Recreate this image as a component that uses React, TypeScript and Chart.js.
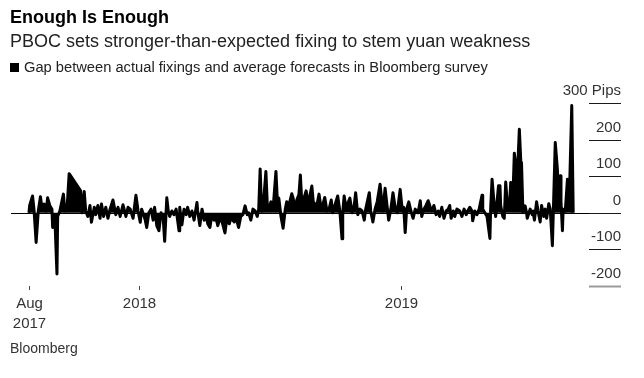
import React, { useEffect, useRef } from "react";
import { Chart, registerables } from "chart.js";

Chart.register(...registerables);

// Days since 1 Aug 2017 (daily fixings, sampled from the chart)
const days = [
  0, 1, 5, 7, 10, 13, 16, 18, 21, 24, 26, 29, 32, 33, 36, 39, 40, 43, 48, 50, 53, 56,
  72, 74, 77, 79, 82, 85, 87, 91, 93, 96, 99, 101, 104, 107, 110, 113, 117, 121, 124, 127,
  131, 135, 138, 141, 145, 149, 152, 155, 157, 162, 164, 167, 170, 173, 175, 178, 181, 184,
  187, 189, 192, 194, 196, 199, 202, 205, 209, 210, 213, 216, 219, 221, 224, 227, 230, 234,
  235, 238, 241, 244, 247, 249, 252, 255, 258, 260, 263, 266, 269, 273, 276, 279, 281, 286,
  288, 292, 295, 298, 301, 304, 306, 309, 312, 315, 318, 320, 322, 324, 326, 330, 332, 334,
  337, 340, 344, 346, 348, 351, 354, 357, 359, 362, 366, 368, 370, 373, 376, 378, 380, 383,
  386, 389, 391, 394, 396, 398, 401, 404, 407, 409, 412, 415, 418, 421, 423, 426, 430, 433,
  436, 437, 439, 442, 444, 447, 450, 453, 455, 458, 461, 464, 467, 469, 474, 476, 479, 482,
  485, 489, 492, 493, 496, 499, 501, 504, 507, 510, 513, 517, 520, 522, 524, 526, 529, 532,
  535, 538, 542, 545, 547, 550, 553, 556, 559, 561, 564, 567, 570, 572, 575, 578, 581, 584,
  586, 588, 591, 593, 596, 600, 603, 606, 609, 611, 614, 617, 618, 621, 624, 627, 631, 632,
  635, 638, 642, 643, 645, 648, 650, 654, 656, 657, 660, 662, 664, 666, 669, 671, 673, 674,
  676, 678, 680, 683, 685, 686, 688, 691, 693, 694, 698, 701, 702, 704, 707, 709, 712, 714,
  717, 719, 721, 724, 726, 729, 733, 736, 737, 740, 741, 743, 744, 747, 750, 752, 753, 756,
  758,
];

// Gap between actual fixing and average forecast, in pips
const gapPips = [
  0, 20, 46, 10, -81, 5, 44, 15, 24, 5, 41, 20, 10, -40, -10, -167, -10, 5, 51, 5, 10, 107,
  60, 0, 58, 5, -10, 20, -26, 15, -5, 20, -15, 24, -10, 15, -15, 10, 35, -5, 15, -10,
  22, -10, 15, 10, -15, 48, 5, -26, 10, -20, -40, 0, 10, -20, 15, -35, -49, 0,
  -15, -78, 41, 5, -10, 5, -5, 10, -49, 15, -33, 10, -5, 15, -10, 5, -20, 28,
  5, -35, 10, -20, -10, -30, -40, -5, -20, -10, -35, -15, -25, -55, -10, -30, -15, -25,
  -10, -40, -10, -5, 19, -5, 0, -20, 10, 5, -10, 10, 120, 5, 10, 113, 20, 10,
  30, 10, 113, 30, 40, -10, -42, 10, 30, 20, 52, 40, 10, 35, 50, 103, 30, 40,
  60, 20, 45, 73, 30, 25, 20, 51, 10, 20, 42, 5, 10, 35, 0, 20, 46, 5,
  -71, 0, 46, 10, 25, 40, 0, 20, 55, -5, 10, 5, -20, 10, 55, 5, -25, 10,
  30, 78, 20, 5, 67, 15, -20, 10, 55, 15, 0, 64, 5, 15, -54, 10, 30, 5,
  -15, 10, 0, 33, -10, 10, 20, 33, 15, 5, 20, -5, 5, -10, 15, -15, 5, 10,
  20, -15, 5, -10, 10, 5, -10, 10, -5, 5, 15, 5, -22, 5, -5, 10, 48, 10,
  0, -10, -70, 10, 92, 20, -10, 74, 74, 20, -10, -15, 84, 30, 10, 83, 80, 40,
  163, 130, 90, 228, 140, 137, 0, 19, 0, -15, 10, -5, 5, -20, 30, 5, -25, 20,
  -10, 10, -15, 25, 10, -90, 192, 119, 60, 101, 30, -49, 10, 5, 92, 40, 70, 293,
  0,
];

const yTickValues = [300, 200, 100, 0, -100, -200];
const yTickLabels = ["300 Pips", "200", "100", "0", "-100", "-200"];
const xTickDays = [0, 153, 518];
const xTickLabels = [["Aug", "2017"], ["2018"], ["2019"]];

const FONT = "'Liberation Sans', Arial, Helvetica, sans-serif";

const axesPlugin = {
  id: "bbgAxes",
  afterDatasetsDraw(chart: any) {
    const { ctx, chartArea, scales } = chart;
    const xs = scales.x;
    const ys = scales.y;
    const axisEnd = chartArea.right + 32;
    ctx.save();
    // zero baseline
    const y0 = Math.round(ys.getPixelForValue(0)) + 0.5;
    ctx.strokeStyle = "#000";
    ctx.lineWidth = 1;
    ctx.beginPath();
    ctx.moveTo(chartArea.left, y0);
    ctx.lineTo(axisEnd, y0);
    ctx.stroke();
    // right axis: short segments with labels above
    ctx.font = `15px ${FONT}`;
    ctx.textAlign = "right";
    ctx.textBaseline = "middle";
    yTickValues.forEach((v, i) => {
      const py = Math.round(ys.getPixelForValue(v)) + 0.5;
      const last = v === yTickValues[yTickValues.length - 1];
      ctx.strokeStyle = last ? "#9a9a9a" : "#1a1a1a";
      ctx.lineWidth = last ? 2 : 1;
      ctx.beginPath();
      ctx.moveTo(chartArea.right, py);
      ctx.lineTo(axisEnd, py);
      ctx.stroke();
      ctx.fillStyle = "#333";
      ctx.fillText(yTickLabels[i], axisEnd, py - 13);
    });
    // x axis ticks and labels
    ctx.textAlign = "center";
    xTickDays.forEach((d, i) => {
      const px = Math.round(xs.getPixelForValue(d)) + 0.5;
      ctx.strokeStyle = "#444";
      ctx.lineWidth = 1;
      ctx.beginPath();
      ctx.moveTo(px, chartArea.bottom);
      ctx.lineTo(px, chartArea.bottom + 4);
      ctx.stroke();
      ctx.fillStyle = "#333";
      xTickLabels[i].forEach((t, j) => {
        ctx.fillText(t, px, chartArea.bottom + 18 + j * 20);
      });
    });
    ctx.restore();
  },
};

export default function App() {
  const canvasRef = useRef<HTMLCanvasElement>(null);

  useEffect(() => {
    if (!canvasRef.current) return;
    const points = days.map((d, i) => ({ x: d, y: gapPips[i] }));
    const chart = new Chart(canvasRef.current, {
      type: "line",
      data: {
        datasets: [
          {
            data: points,
            borderColor: "#000",
            backgroundColor: "#000",
            borderWidth: 3,
            borderJoinStyle: "round",
            fill: "origin",
            tension: 0,
            pointRadius: 0,
          },
        ],
      },
      options: {
        responsive: false,
        maintainAspectRatio: false,
        animation: false,
        layout: { padding: { left: 11, right: 55, top: 103, bottom: 92 } },
        plugins: {
          legend: { display: false },
          tooltip: { enabled: false },
          title: { display: false },
        },
        scales: {
          x: { type: "linear", min: -25, max: 780, display: false },
          y: { type: "linear", min: -200, max: 300, display: false },
        },
      },
      plugins: [axesPlugin],
    } as any);
    return () => chart.destroy();
  }, []);

  return (
    <div
      style={{
        position: "absolute",
        left: 0,
        top: 0,
        width: 644,
        height: 378,
        background: "#fff",
        fontFamily: FONT,
        overflow: "hidden",
      }}
    >
      <canvas
        ref={canvasRef}
        width={644}
        height={378}
        style={{ position: "absolute", left: 0, top: 0, width: 644, height: 378 }}
      />
      <div
        style={{
          position: "absolute",
          left: 10,
          top: 6,
          fontSize: 18,
          lineHeight: "22px",
          fontWeight: "bold",
          color: "#000",
          whiteSpace: "nowrap",
        }}
      >
        Enough Is Enough
      </div>
      <div
        style={{
          position: "absolute",
          left: 10,
          top: 30,
          fontSize: 18,
          lineHeight: "22px",
          color: "#222",
          whiteSpace: "nowrap",
        }}
      >
        PBOC sets stronger-than-expected fixing to stem yuan weakness
      </div>
      <div
        style={{
          position: "absolute",
          left: 10,
          top: 58,
          fontSize: 14.7,
          lineHeight: "18px",
          color: "#222",
          whiteSpace: "nowrap",
          display: "flex",
          alignItems: "center",
        }}
      >
        <span
          style={{
            display: "inline-block",
            width: 9,
            height: 9,
            background: "#000",
            marginRight: 5,
          }}
        />
        Gap between actual fixings and average forecasts in Bloomberg survey
      </div>
      <div
        style={{
          position: "absolute",
          left: 10,
          top: 340,
          fontSize: 14,
          lineHeight: "16px",
          color: "#333",
          whiteSpace: "nowrap",
        }}
      >
        Bloomberg
      </div>
    </div>
  );
}
